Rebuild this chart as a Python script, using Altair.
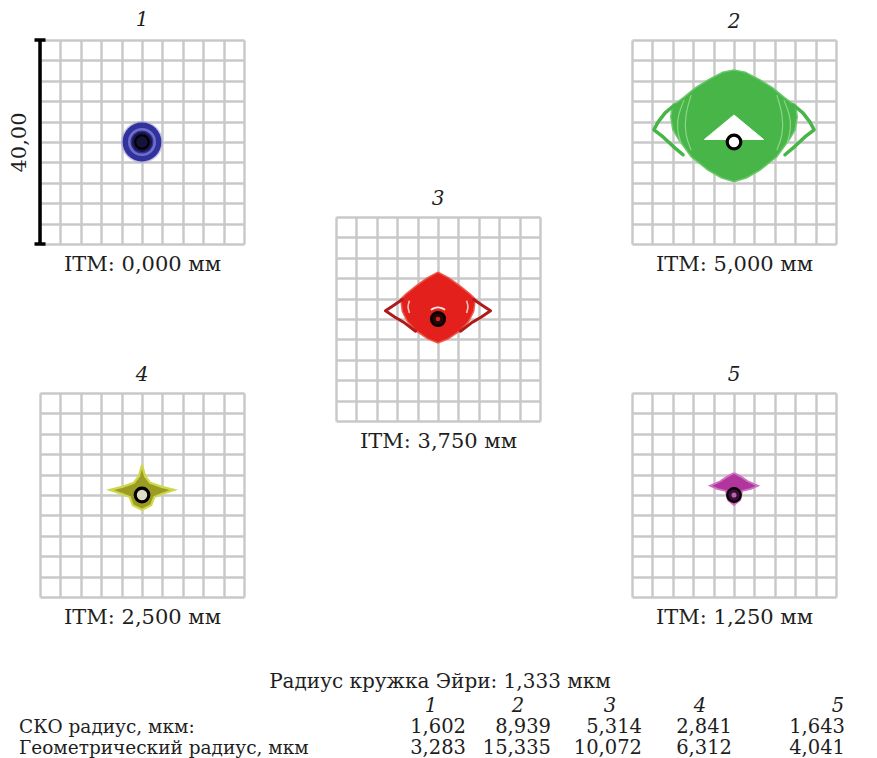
import altair as alt
import pandas as pd

SERIF = "DejaVu Serif"
INK = "#1e1e1e"
GRID = "#c8c8c8"

# ---------------- values ----------------
field_no = ["1", "2", "3", "4", "5"]
image_height_mm = [0.0, 5.0, 3.75, 2.5, 1.25]
rms_radius_um = [1.602, 8.939, 5.314, 2.841, 1.643]
geo_radius_um = [3.283, 15.335, 10.072, 6.312, 4.041]
airy_radius_um = 1.333
scale_bar_um = 40.0
grid_um = [-20, -16, -12, -8, -4, 0, 4, 8, 12, 16, 20]

# field 1: concentric zones of the on-axis spot, radius in µm
spot1_halo_r = 4.1
spot1_outer_r = 3.8
spot1_ring_r = 2.5
spot1_core_r = 2.0

# field 2: footprint outline, central gap, side tails and inner arcs (µm)
spot2_x = [0.0, 2.2, 5.1, 7.6, 9.8, 11.4, 12.2, 12.4, 12.0, 10.8, 8.4, 5.1, 2.5,
           0.0, -2.5, -5.1, -8.4, -10.8, -12.0, -12.4, -12.2, -11.4, -9.8, -7.6, -5.1, -2.2]
spot2_y = [14.1, 13.7, 12.2, 10.6, 8.8, 7.6, 6.4, 4.9, 2.4, 0.4, -2.9, -5.5, -7.0,
           -7.8, -7.0, -5.5, -2.9, 0.4, 2.4, 4.9, 6.4, 7.6, 8.8, 10.6, 12.2, 13.7]
spot2_gap_x = [0.0, 5.8, -5.8]
spot2_gap_y = [5.3, 0.5, 0.5]
spot2_tail_left_x = [-11.6, -13.5, -14.9, -15.7, -13.9, -12.0, -10.0]
spot2_tail_right_x = [11.6, 13.5, 14.9, 15.7, 13.9, 12.0, 10.0]
spot2_tail_y = [7.3, 5.7, 3.9, 2.4, 1.0, -0.8, -2.5]
spot2_arc_outer_left_x = [-9.8, -11.0, -11.2, -10.4]
spot2_arc_outer_right_x = [9.8, 11.0, 11.2, 10.4]
spot2_arc_outer_y = [8.2, 5.3, 2.4, -0.2]
spot2_arc_inner_left_x = [-8.4, -9.6, -9.6, -8.4]
spot2_arc_inner_right_x = [8.4, 9.6, 9.6, 8.4]
spot2_arc_inner_y = [9.2, 5.3, 1.4, -1.6]

# field 3: footprint outline, tails, gaps beside the ears and over the core (µm)
spot3_x = [0.0, -2.2, -4.3, -6.3, -7.3, -7.0, -6.0, -4.2, -2.0, 0.0,
           2.0, 4.2, 6.0, 7.0, 7.3, 6.3, 4.3, 2.2]
spot3_y = [9.2, 8.0, 6.5, 4.9, 3.9, 1.5, -0.5, -2.4, -3.9, -4.7,
           -3.9, -2.4, -0.5, 1.5, 3.9, 4.9, 6.5, 8.0]
spot3_tail_left_x = [-7.0, -8.8, -10.3, -8.5, -6.5, -4.4]
spot3_tail_right_x = [7.0, 8.8, 10.3, 8.5, 6.5, 4.4]
spot3_tail_y = [3.8, 2.6, 1.6, 0.4, -0.8, -2.4]
spot3_ear_left_x = [-5.6, -6.0, -5.6]
spot3_ear_right_x = [5.6, 6.0, 5.6]
spot3_ear_y = [3.6, 2.4, 1.2]
spot3_cap_x = [-1.4, -0.7, 0.0, 0.7, 1.4]
spot3_cap_y = [1.8, 2.2, 2.3, 2.2, 1.8]

# field 4: footprint outline (µm)
spot4_x = [0.0, -0.6, -1.6, -3.9, -6.3, -3.9, -2.4, -1.8, 0.0, 1.8, 2.4, 3.9, 6.3, 3.9, 1.6, 0.6]
spot4_y = [5.9, 3.7, 2.4, 1.6, 1.0, 0.2, -0.4, -2.0, -2.9, -2.0, -0.4, 0.2, 1.0, 1.6, 2.4, 3.7]

# field 5: footprint outline (µm)
spot5_x = [0.0, -1.2, -2.7, -4.7, -3.3, -1.6, -1.2, 0.0, 1.2, 1.6, 3.3, 4.7, 2.7, 1.2]
spot5_y = [4.3, 3.7, 2.7, 1.8, 1.2, 0.8, -1.0, -2.0, -1.0, 0.8, 1.2, 1.8, 2.7, 3.7]

table_rows = ["СКО радиус, мкм:", "Геометрический радиус, мкм"]

# ---------------- layout ----------------
PANEL = 204
PX_PER_UM = PANEL / (grid_um[-1] - grid_um[0])

# summary table: column anchors in px from the table's left edge
TABLE_W = 800
LABEL_LEFT = -21
VALUE_RIGHT = [426, 511, 602, 692, 805]
HEAD_CENTER = [391, 478, 570, 660, 798]


def ru(v, digits=3):
    return f"{v:.{digits}f}".replace(".", ",")


def sym_size(r_um):
    # Vega circle symbols: size = (diameter in px) ** 2
    return (2 * r_um * PX_PER_UM) ** 2


def encodings(i, with_bar):
    dom = alt.Scale(domain=[grid_um[0], grid_um[-1]], nice=False, zero=False)
    common = dict(values=grid_um, grid=True, gridColor=GRID, gridWidth=2.4,
                  labels=False, ticks=False, domain=False)
    x = alt.X("x:Q", scale=dom, axis=alt.Axis(
        title=f"ITM: {ru(image_height_mm[i])} мм", titleFont=SERIF, titleFontSize=21,
        titleFontWeight="normal", titleColor=INK, titlePadding=9, **common))
    if with_bar:
        yaxis = alt.Axis(title=ru(scale_bar_um, 2), titleFont=SERIF, titleFontSize=21,
                         titleFontWeight="normal", titleColor=INK, titlePadding=11, **common)
    else:
        yaxis = alt.Axis(title=None, **common)
    y = alt.Y("y:Q", scale=dom, axis=yaxis)
    return x, y


def polygon(enc, xs, ys, **mark):
    df = pd.DataFrame({"x": xs + xs[:1], "y": ys + ys[:1], "o": list(range(len(xs) + 1))})
    return alt.Chart(df).mark_line(**mark).encode(x=enc[0], y=enc[1], order="o:Q")


def paths(enc, parts, **mark):
    rows = []
    for k, (xs, ys) in enumerate(parts):
        for j, (a, b) in enumerate(zip(xs, ys)):
            rows.append({"x": a, "y": b, "o": j, "part": k})
    return alt.Chart(pd.DataFrame(rows)).mark_line(**mark).encode(
        x=enc[0], y=enc[1], order="o:Q", detail="part:N")


def disc(enc, r, **mark):
    df = pd.DataFrame({"x": [0.0], "y": [0.0]})
    return alt.Chart(df).mark_point(shape="circle", size=sym_size(r), **mark).encode(
        x=enc[0], y=enc[1])


def airy(enc, fill=None, width=3):
    kw = dict(stroke="black", strokeWidth=width, opacity=1)
    if fill:
        kw.update(filled=True, fill=fill)
    return disc(enc, airy_radius_um, **kw)


def finish(i, layers):
    return alt.layer(*layers).properties(
        width=PANEL, height=PANEL,
        title=alt.TitleParams(text=field_no[i], font=SERIF, fontSize=20, fontStyle="italic",
                              fontWeight="normal", color=INK, offset=8, anchor="middle"))


# field 1
e1 = encodings(0, True)
half = scale_bar_um / 2
bar_df = pd.DataFrame({"x": [grid_um[0]], "y": [-half], "y2": [half]})
caps_df = pd.DataFrame({"x": [grid_um[0], grid_um[0]], "y": [-half, half]})
p1 = finish(0, [
    disc(e1, spot1_halo_r, filled=True, color="#9a9ad8", opacity=0.55),
    disc(e1, spot1_outer_r, filled=True, color="#32329c", opacity=1),
    disc(e1, spot1_ring_r, filled=False, color="#7070c8", strokeWidth=2.5, opacity=1),
    disc(e1, spot1_core_r, filled=True, color="#17174e", opacity=1),
    airy(e1, fill="#141438", width=2),
    alt.Chart(bar_df).mark_rule(color="black", strokeWidth=3.5).encode(
        x=e1[0], y=e1[1], y2="y2:Q"),
    alt.Chart(caps_df).mark_tick(orient="horizontal", color="black", size=11,
                                 thickness=3.5, opacity=1).encode(x=e1[0], y=e1[1]),
])

# field 2
e2 = encodings(1, False)
G2 = "#47b547"
p2 = finish(1, [
    polygon(e2, spot2_x, spot2_y, fill=G2, stroke="#6cc86c", strokeWidth=1.5),
    paths(e2, [(spot2_tail_left_x, spot2_tail_y), (spot2_tail_right_x, spot2_tail_y)],
          color=G2, strokeWidth=3.5, strokeCap="round", strokeJoin="round"),
    paths(e2, [(spot2_arc_outer_left_x, spot2_arc_outer_y), (spot2_arc_outer_right_x, spot2_arc_outer_y),
               (spot2_arc_inner_left_x, spot2_arc_inner_y), (spot2_arc_inner_right_x, spot2_arc_inner_y)],
          color="#8fd48b", strokeWidth=1.2, interpolate="basis"),
    polygon(e2, spot2_gap_x, spot2_gap_y, fill="white", stroke="white", strokeWidth=1),
    airy(e2, fill="white", width=3.2),
])

# field 3
e3 = encodings(2, False)
p3 = finish(2, [
    polygon(e3, spot3_x, spot3_y, fill="#e3201c", stroke="#ee5a4a", strokeWidth=1.5),
    paths(e3, [(spot3_tail_left_x, spot3_tail_y), (spot3_tail_right_x, spot3_tail_y)],
          color="#b01a1a", strokeWidth=3, strokeCap="round", strokeJoin="round"),
    paths(e3, [(spot3_ear_left_x, spot3_ear_y), (spot3_ear_right_x, spot3_ear_y)],
          color="#f3c4bc", strokeWidth=1.6, interpolate="basis"),
    paths(e3, [(spot3_cap_x, spot3_cap_y)], color="#fbe8e4", strokeWidth=1.8, interpolate="basis"),
    airy(e3, fill="#2a0707", width=2.5),
    disc(e3, 0.45, filled=True, color="#d02424", opacity=1),
])

# field 4
e4 = encodings(3, False)
p4 = finish(3, [
    polygon(e4, spot4_x, spot4_y, fill="#9c9c24", stroke="#cdd84a", strokeWidth=2.2),
    airy(e4, fill="#dedcc8", width=3.2),
])

# field 5
e5 = encodings(4, False)
p5 = finish(4, [
    polygon(e5, spot5_x, spot5_y, fill="#b2359e", stroke="#cf72c2", strokeWidth=1.8),
    airy(e5, fill="#3f0b3b", width=2.2),
    disc(e5, 0.5, filled=True, color="#b06aa8", opacity=1),
])

spacer = alt.Chart(alt.Data(values=[])).mark_point().properties(width=PANEL, height=100)

# flush bounds: nested columns count as zero-width, so the spacing is the column pitch
top = alt.hconcat(
    alt.vconcat(p1, p4, spacing=149, bounds="flush"),
    alt.vconcat(spacer, p3, spacing=77, bounds="flush"),
    alt.vconcat(p2, p5, spacing=149, bounds="flush"),
    spacing=296, bounds="flush",
)

# ---------------- summary table ----------------
row_keys = ["rms", "geo"]
label_df = pd.DataFrame({"row": row_keys, "px": [LABEL_LEFT, LABEL_LEFT], "text": table_rows})
value_rows = []
for key, vals in zip(row_keys, [rms_radius_um, geo_radius_um]):
    for pos, v in zip(VALUE_RIGHT, vals):
        value_rows.append({"row": key, "px": pos, "text": ru(v)})
value_df = pd.DataFrame(value_rows)
head_df = pd.DataFrame({"row": ["head"] * 5, "px": HEAD_CENTER, "text": field_no})

ycol = alt.Y("row:N", scale=alt.Scale(type="point", domain=["head"] + row_keys, padding=0.5),
             axis=None)
xcol = alt.X("px:Q", scale=alt.Scale(domain=[0, TABLE_W], nice=False, zero=False), axis=None)

txt = dict(font=SERIF, color=INK, baseline="middle")
table = alt.layer(
    alt.Chart(label_df).mark_text(align="left", fontSize=18.5, **txt).encode(
        x=xcol, y=ycol, text="text:N"),
    alt.Chart(value_df).mark_text(align="right", fontSize=19.5, **txt).encode(
        x=xcol, y=ycol, text="text:N"),
    alt.Chart(head_df).mark_text(align="center", fontStyle="italic", fontSize=19.5, **txt).encode(
        x=xcol, y=ycol, text="text:N"),
).properties(
    width=TABLE_W, height=64,
    title=alt.TitleParams(text=f"Радиус кружка Эйри: {ru(airy_radius_um)} мкм", font=SERIF,
                          fontSize=20, fontWeight="normal", color=INK, offset=3, anchor="middle"),
)

chart = alt.vconcat(top, table, spacing=655, bounds="flush").properties(
    padding={"left": 8, "top": 10, "right": 5, "bottom": 0},
    background="white",
).configure_view(stroke=None)

chart.save("out.html", embed_options={"renderer": "svg", "actions": False})
